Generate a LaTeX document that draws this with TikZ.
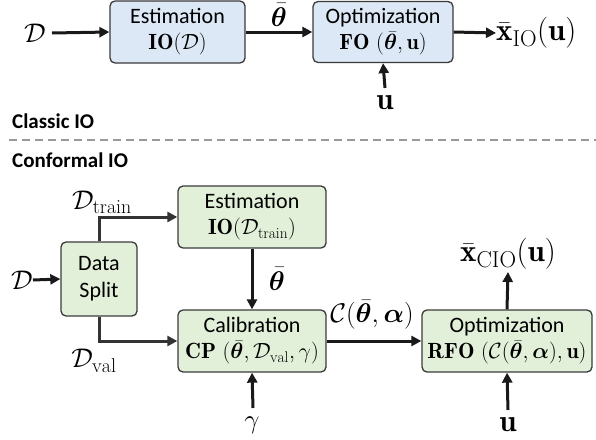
\RequirePackage{fix-cm}
\documentclass[tikz,border=0pt]{standalone}
\usepackage{amsmath,amssymb,bm}
\usepackage{fontspec}
\setsansfont{Carlito}
\usetikzlibrary{arrows.meta}
\DeclareMathSizes{27}{27}{20}{15}
\DeclareMathSizes{31}{31}{23}{17}
\definecolor{bluefill}{HTML}{DCE8F5}
\definecolor{greenfill}{HTML}{E2EFD9}
\definecolor{boxline}{HTML}{3A3A3A}
\begin{document}
\begin{tikzpicture}[x=1pt,y=-1pt,
  box/.style={draw=boxline,line width=1.3pt,rounded corners=5pt,align=center,inner sep=0pt,
    font=\fontsize{22}{26}\selectfont},
  bluebox/.style={box,fill=bluefill},
  greenbox/.style={box,fill=greenfill},
  lbl/.style={inner sep=0pt,font=\fontsize{27}{30}\selectfont},
  biglbl/.style={inner sep=0pt,font=\fontsize{31}{34}\selectfont},
  head/.style={inner sep=0pt,anchor=west,font=\fontsize{21}{24}\selectfont\sffamily\bfseries},
  arr/.style={-{Triangle[length=10pt,width=10pt]},line width=3pt,draw=black!90},
  sarr/.style={arr,draw=black!80}]
\useasboundingbox (0,0) rectangle (596,439);
% Classic IO
\node[bluebox,minimum width=135pt,minimum height=62pt] (est1) at (177.5,32)
  {\sffamily Estimation\\ $\mathbf{IO}(\mathcal{D})$};
\node[bluebox,minimum width=140pt,minimum height=61pt] (opt1) at (383,32)
  {\sffamily Optimization\\ $\mathbf{FO}\ (\bar{\bm\theta},\mathbf{u})$};
\node[lbl] (D1) at (35,33) {$\mathcal{D}$};
\node[lbl,anchor=base] (th1) at (279,26) {$\bar{\bm\theta}$};
\node[biglbl,anchor=west] (xio) at (496,33) {$\bar{\mathbf{x}}_{\mathrm{IO}}(\mathbf{u})$};
\node[biglbl] (u1) at (385,103) {$\mathbf{u}$};
\coordinate (u1s) at (385,88);
\coordinate (d1e) at (52,33);
\draw[arr] (d1e) -- (est1.west);
\draw[arr] (est1.east) -- (opt1.west);
\draw[arr] (opt1.east) -- (xio.west);
\draw[arr] (u1s) -- (opt1.south);
\node[head] (classic) at (12,121) {Classic IO};
\draw[gray!80,line width=1.5pt,dash pattern=on 8pt off 5pt] (9,140) coordinate (dl) -- (596,140) coordinate (dr);
\node[head] (conf) at (12,160) {Conformal IO};
% Conformal IO
\node[greenbox,minimum width=76pt,minimum height=74pt] (split) at (99,279)
  {\sffamily Data\\[1pt] \sffamily Split};
\node[greenbox,minimum width=148pt,minimum height=62pt] (est2) at (252,217)
  {\sffamily Estimation\\ $\mathbf{IO}(\mathcal{D}_{\mathrm{train}})$};
\node[greenbox,minimum width=148pt,minimum height=62pt] (cal) at (252,341)
  {\sffamily Calibration\\ $\mathbf{CP}\ (\bar{\bm\theta},\mathcal{D}_{\mathrm{val}},\gamma)$};
\node[greenbox,minimum width=170pt,minimum height=62pt] (opt2) at (507,341)
  {\sffamily Optimization\\ $\mathbf{RFO}\ (\mathcal{C}(\bar{\bm\theta},\bm\alpha),\mathbf{u})$};
\node[lbl] (D2) at (22,280) {$\mathcal{D}$};
\node[lbl] (dtr) at (102,202) {$\mathcal{D}_{\mathrm{train}}$};
\node[lbl] (dval) at (94,361) {$\mathcal{D}_{\mathrm{val}}$};
\node[lbl] (th2) at (277,279) {$\bar{\bm\theta}$};
\node[lbl] (gam) at (252,425) {$\gamma$};
\node[lbl] (cl) at (372,315) {$\mathcal{C}(\bar{\bm\theta},\bm\alpha)$};
\node[biglbl] (xcio) at (508,254) {$\bar{\mathbf{x}}_{\mathrm{CIO}}(\mathbf{u})$};
\node[biglbl] (u2) at (508,425) {$\mathbf{u}$};
\coordinate (gs) at (253,408);
\coordinate (u2s) at (508,410);
\coordinate (xe) at (508,272);
\draw[arr] (D2.east) -- (split.west);
\draw[sarr] (split.north) |- (est2.west);
\draw[sarr] (split.south) |- (cal.west);
\draw[arr] (est2.south) -- (cal.north);
\draw[arr] (gs) -- (cal.south);
\draw[arr] (cal.east) -- (opt2.west);
\draw[arr] (opt2.north) -- (xe);
\draw[arr] (u2s) -- (opt2.south);
\end{tikzpicture}
\end{document}
